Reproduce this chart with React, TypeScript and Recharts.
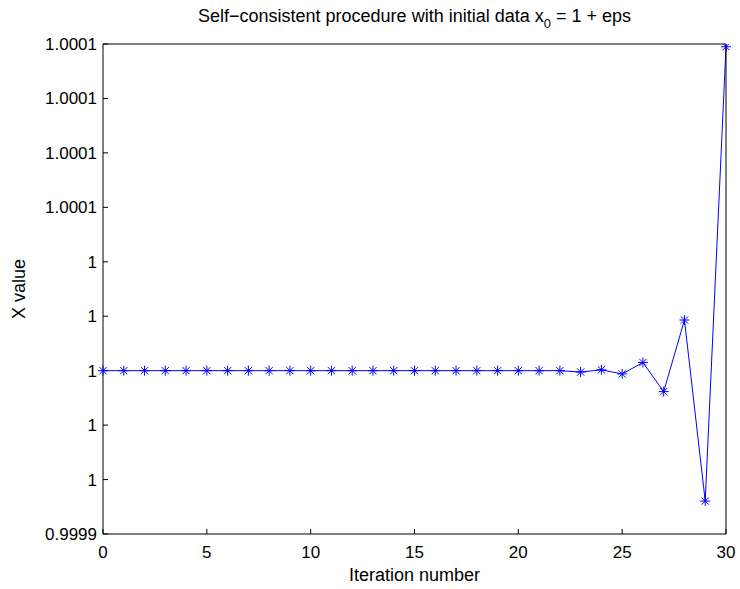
import React from "react";
import { LineChart, Line, XAxis, YAxis } from "recharts";

const iterations = [
  0, 1, 2, 3, 4, 5, 6, 7, 8, 9, 10, 11, 12, 13, 14, 15, 16, 17, 18, 19, 20, 21, 22, 23, 24, 25, 26, 27, 28, 29, 30,
];
const xValues = [
  1, 1, 1, 1, 1, 1, 1, 1, 1, 1, 1, 1, 1, 1, 1, 1, 1, 1, 1, 1, 1, 1, 1,
  0.9999995, 1.0000003, 0.9999988, 1.000003, 0.9999923, 1.0000186, 0.9999521, 1.000119,
];
const xTicks = [0, 5, 10, 15, 20, 25, 30];
const yTicks = [0.99994, 0.99996, 0.99998, 1, 1.00002, 1.00004, 1.00006, 1.00008, 1.0001, 1.00012];
const yTickLabels = ["0.9999", "1", "1", "1", "1", "1", "1.0001", "1.0001", "1.0001", "1.0001"];

const data = iterations.map((it, i) => ({ iter: it, x: xValues[i] }));

const FONT = '"Liberation Sans", Arial, Helvetica, sans-serif';
const BLUE = "#0000ff";

function yLabel(v: number) {
  const i = yTicks.findIndex(t => Math.abs(t - v) < 1e-9);
  return i >= 0 ? yTickLabels[i] : "";
}

const Star = (props: any) => {
  const { cx, cy, index } = props;
  if (cx == null || cy == null) return null;
  const r = 5;
  const d = 3.6;
  return (
    <g key={`star-${index}`} stroke={BLUE} strokeWidth={1}>
      <line x1={cx - r} y1={cy} x2={cx + r} y2={cy} />
      <line x1={cx} y1={cy - r} x2={cx} y2={cy + r} />
      <line x1={cx - d} y1={cy - d} x2={cx + d} y2={cy + d} />
      <line x1={cx - d} y1={cy + d} x2={cx + d} y2={cy - d} />
    </g>
  );
};

const tickStyle = { fontSize: 17, fill: "#000", fontFamily: FONT };

export default function App() {
  return (
    <div style={{ position: "absolute", left: 0, top: 0, width: 740, height: 589, background: "#fff", fontFamily: FONT }}>
      <LineChart width={740} height={589} data={data} margin={{ top: 14, right: 0, bottom: 25, left: 43 }}>
        <XAxis
          dataKey="iter"
          type="number"
          domain={[0, 30]}
          ticks={xTicks}
          interval={0}
          tickSize={-5}
          tickMargin={17}
          height={30}
          stroke="#000"
          tick={tickStyle}
        />
        <XAxis
          xAxisId="top"
          orientation="top"
          type="number"
          domain={[0, 30]}
          ticks={xTicks}
          interval={0}
          tickSize={-5}
          height={30}
          stroke="#000"
          tick={false}
        />
        <YAxis
          type="number"
          domain={[0.99994, 1.00012]}
          ticks={yTicks}
          interval={0}
          tickSize={-5}
          tickMargin={11}
          width={60}
          stroke="#000"
          tick={tickStyle}
          tickFormatter={yLabel}
          allowDataOverflow
        />
        <YAxis
          yAxisId="right"
          orientation="right"
          type="number"
          domain={[0.99994, 1.00012]}
          ticks={yTicks}
          interval={0}
          tickSize={-5}
          width={14}
          stroke="#000"
          tick={false}
          allowDataOverflow
        />
        <Line
          dataKey="x"
          stroke={BLUE}
          strokeWidth={1}
          dot={Star}
          activeDot={false}
          isAnimationActive={false}
        />
      </LineChart>
      <svg width={740} height={589} style={{ position: "absolute", left: 0, top: 0, pointerEvents: "none" }}>
        <text x={414.5} y={22} textAnchor="middle" fontSize={18} fontFamily={FONT} fill="#000">
          Self−consistent procedure with initial data x
          <tspan dy={6} fontSize={13}>0</tspan>
          <tspan dy={-6}> = 1 + eps</tspan>
        </text>
        <text x={414.5} y={581} textAnchor="middle" fontSize={18} fontFamily={FONT} fill="#000">
          Iteration number
        </text>
        <text x={25} y={289} textAnchor="middle" fontSize={18} fontFamily={FONT} fill="#000" transform="rotate(-90 25 289)">
          X value
        </text>
      </svg>
    </div>
  );
}
